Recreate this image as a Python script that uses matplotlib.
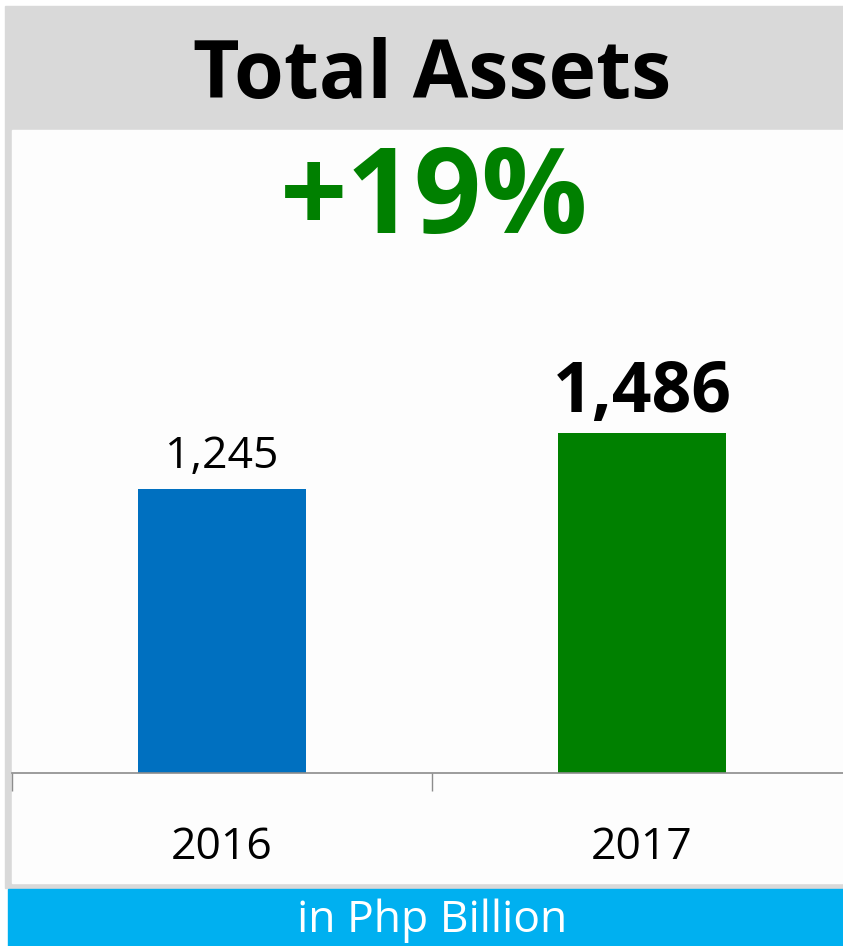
import matplotlib.pyplot as plt
from matplotlib.patches import Rectangle

years = ['2016', '2017']
assets = [1245, 1486]
bar_colors = ['#0070C0', '#008000']
growth_label = '+19%'
title = 'Total Assets'
unit_note = 'in Php Billion'

W, H = 843, 946
fig = plt.figure(figsize=(W / 100, H / 100), dpi=100)
fig.patch.set_facecolor('white')

def px_box(x0, y0, x1, y1):
    # pixel box (top-left origin) -> figure fraction rect
    return [x0 / W, 1 - y1 / H, (x1 - x0) / W, (y1 - y0) / H]

# frame pieces, drawn under the axes
fig.patches.append(Rectangle((5 / W, 1 - 888 / H), 840 / W, 882 / H,
                             transform=fig.transFigure, color='#D9D9D9', zorder=-10))
fig.patches.append(Rectangle((12 / W, 1 - 883 / H), 840 / W, 753 / H,
                             transform=fig.transFigure, color='#FDFDFD', zorder=-9))
fig.patches.append(Rectangle((8 / W, 0), 840 / W, 57 / H,
                             transform=fig.transFigure, color='#00B0F0', zorder=-9))

font = 'Open Sans'
fig.text(432 / W, 1 - 77 / H, title, ha='center', va='center', fontsize=58,
         fontweight='bold', family=font, color='black')
fig.text(434 / W, 1 - 203 / H, growth_label, ha='center', va='center', fontsize=85,
         fontweight='bold', family=font, color='#008000')
fig.text(432 / W, 1 - 921 / H, unit_note, ha='center', va='center', fontsize=32,
         family=font, color='white')

ax = fig.add_axes(px_box(12, 130, 852, 773))
ax.patch.set_alpha(0)
x = range(len(years))
bars = ax.bar(x, assets, width=0.4, color=bar_colors)
ax.set_xlim(-0.5, 1.5)
ax.set_ylim(0, 643 / 0.2285)

ax.text(0, assets[0] + 40, f'{assets[0]:,}', ha='center', va='bottom',
        fontsize=32, family=font, color='black')
ax.text(1, assets[1] + 20, f'{assets[1]:,}', ha='center', va='bottom',
        fontsize=50, fontweight='bold', family=font, color='black')

for s in ['top', 'right', 'left']:
    ax.spines[s].set_visible(False)
ax.spines['bottom'].set_color('#8C8C8C')
ax.spines['bottom'].set_linewidth(1.2)
ax.set_yticks([])
ax.set_xticks(list(x))
ax.set_xticklabels(years, fontsize=32, family=font)
ax.tick_params(axis='x', which='major', length=0, pad=38)
ax.set_xticks([-0.5, 0.5, 1.5], minor=True)
ax.tick_params(axis='x', which='minor', length=13, width=1, color='#8C8C8C')

fig.savefig('out.png', dpi=100)
